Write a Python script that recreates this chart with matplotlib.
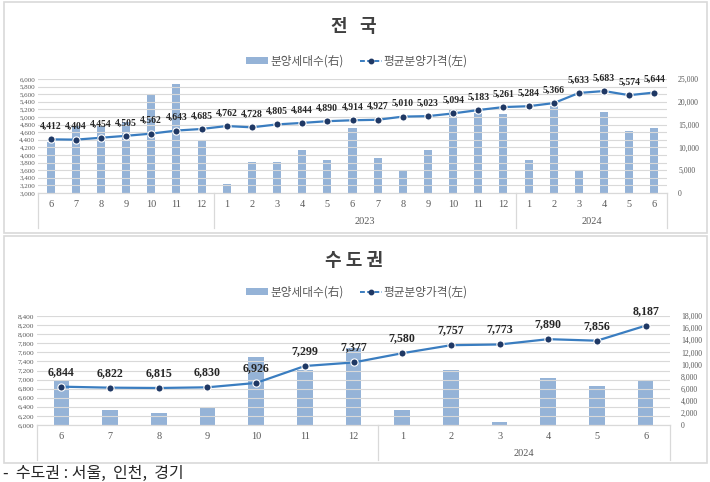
import matplotlib
matplotlib.use("Agg")
import matplotlib.pyplot as plt
from matplotlib.patches import Rectangle, Patch
from matplotlib.lines import Line2D
from matplotlib.transforms import blended_transform_factory
from matplotlib.ticker import FuncFormatter, MultipleLocator

plt.rcParams['font.family'] = ['Liberation Serif', 'Noto Sans CJK KR', 'DejaVu Sans']

# ---------------- data ----------------
nat_months = ['6', '7', '8', '9', '10', '11', '12',
              '1', '2', '3', '4', '5', '6', '7', '8', '9', '10', '11', '12',
              '1', '2', '3', '4', '5', '6']
nat_years = ['', '2023', '2024']
nat_group_sizes = [7, 12, 6]
nat_units = [11100, 14600, 14600, 15500, 21700, 23800, 11400,
             2000, 6700, 6700, 9400, 7300, 14300, 7700, 4750, 9500, 18300, 17500, 17400,
             7300, 19000, 4750, 17800, 13700, 14300]
nat_price = [4412, 4404, 4454, 4505, 4562, 4643, 4685,
             4762, 4728, 4805, 4844, 4890, 4914, 4927, 5010, 5023, 5094, 5183, 5261,
             5284, 5366, 5633, 5683, 5574, 5644]

cap_months = ['6', '7', '8', '9', '10', '11', '12', '1', '2', '3', '4', '5', '6']
cap_years = ['', '2024']
cap_group_sizes = [7, 6]
cap_units = [7500, 2500, 2050, 2900, 11200, 9100, 12700, 2500, 9100, 450, 7700, 6500, 7350]
cap_price = [6844, 6822, 6815, 6830, 6926, 7299, 7377, 7580, 7757, 7773, 7890, 7856, 8187]

legend_bar = '분양세대수(右)'
legend_line = '평균분양가격(左)'
footer = '-  수도권 : 서울,  인천,  경기'

BAR = '#95B3D7'
LINE = '#3A7DC0'
MARK = '#1F3864'
GRID = '#D9D9D9'
TXT = '#595959'
KR = ['Noto Sans CJK KR', 'DejaVu Sans']

W, H = 710, 482
fig = plt.figure(figsize=(W / 100, H / 100), dpi=100)


def fx(x):
    return x / W


def fy(y):
    return 1 - y / H


def box(x0, y0, x1, y1):
    fig.patches.append(Rectangle((fx(x0), fy(y1)), fx(x1) - fx(x0), fy(y0) - fy(y1),
                                 transform=fig.transFigure, fill=False,
                                 edgecolor='#D9D9D9', lw=1.2))


comma = FuncFormatter(lambda v, p: f'{int(round(v)):,}')


def panel(rect, months, years, sizes, units, price, lylim, lstep, rylim, rstep,
          label_off, label_fs, lfs, rfs, year_y, sep_bottom):
    x0, y0, x1, y1 = rect
    ax = fig.add_axes([fx(x0), fy(y1), fx(x1) - fx(x0), fy(y0) - fy(y1)])
    ax2 = ax.twinx()
    n = len(months)
    xs = list(range(n))
    ax.set_zorder(ax2.get_zorder() + 1)
    ax.patch.set_visible(False)
    ax2.bar(xs, units, width=0.32, color=BAR, zorder=2)
    ax.plot(xs, price, color=LINE, lw=1.6, marker='o', ms=5.2,
            markerfacecolor=MARK, markeredgecolor='white', markeredgewidth=0.8, zorder=3)
    for x, v in zip(xs, price):
        ax.annotate(f'{v:,}', (x, v), xytext=(0, label_off), textcoords='offset pixels',
                    ha='center', va='center', fontsize=label_fs, fontweight='bold',
                    color='#262626', zorder=4)
    ax.set_xlim(-0.5, n - 0.5)
    ax.set_ylim(*lylim)
    ax2.set_ylim(*rylim)
    ax.yaxis.set_major_locator(MultipleLocator(lstep))
    ax2.yaxis.set_major_locator(MultipleLocator(rstep))
    ax.yaxis.set_major_formatter(comma)
    ax2.yaxis.set_major_formatter(comma)
    ax.grid(axis='y', color=GRID, lw=0.8)
    ax.set_axisbelow(True)
    ax2.grid(False)
    for a in (ax, ax2):
        for s in ('top', 'left', 'right'):
            a.spines[s].set_visible(False)
        a.spines['bottom'].set_color(GRID)
    ax.set_xticks(xs)
    ax.set_xticklabels(months, fontsize=7.4, color=TXT)
    ax.tick_params(axis='x', length=0, pad=5)
    ax.tick_params(axis='y', length=0, pad=2, labelsize=lfs, labelcolor=TXT)
    ax2.tick_params(axis='y', length=0, pad=8, labelsize=rfs, labelcolor=TXT)
    # group separators and year labels
    tr = blended_transform_factory(ax.transData, fig.transFigure)
    start = 0
    bounds = [-0.5]
    for sz, yr in zip(sizes, years):
        end = start + sz
        bounds.append(end - 0.5)
        if yr:
            ax.text((start + end - 1) / 2, fy(year_y), yr, transform=tr, ha='center',
                    va='center', fontsize=7.4, color=TXT)
        start = end
    for b in bounds:
        ax.add_line(Line2D([b, b], [fy(y1), fy(sep_bottom)], transform=tr, color=GRID,
                           lw=0.9, clip_on=False))
    return ax


# panel frames
box(4, 2, 707, 233)
box(4, 236, 707, 463)

# top panel
fig.text(fx(354), fy(27), '전   국', ha='center', va='center', fontsize=13,
         fontweight='bold', color='#404040', family=KR)
panel((38, 79, 667, 193), nat_months, nat_years, nat_group_sizes, nat_units, nat_price,
      (3000, 6000), 200, (0, 25000), 5000, 13, 7.0, 5.0, 5.6, 222, 228)

# bottom panel
fig.text(fx(354), fy(260), '수 도 권', ha='center', va='center', fontsize=13,
         fontweight='bold', color='#404040', family=KR)
panel((37, 316, 670, 425), cap_months, cap_years, cap_group_sizes, cap_units, cap_price,
      (6000, 8400), 200, (0, 18000), 2000, 15, 8.6, 5.3, 5.6, 454, 460)

handles = [Patch(facecolor=BAR, edgecolor='none'),
           Line2D([], [], color=LINE, lw=1.4, ls=(0, (2.5, 1.2)), marker='o', ms=3.2,
                  markerfacecolor=MARK, markeredgecolor=MARK)]
for yy in (61, 292):
    leg = fig.legend(handles, [legend_bar, legend_line], loc='center',
                     bbox_to_anchor=(fx(357), fy(yy)), ncol=2, frameon=False,
                     handlelength=1.9, handleheight=0.55,
                     columnspacing=1.4, handletextpad=0.15,
                     prop={'family': KR, 'size': 8.4})
    for t in leg.get_texts():
        t.set_color(TXT)

fig.text(fx(3), fy(473), footer, ha='left', va='center', fontsize=11.5,
         color='#262626', family=KR)

fig.savefig('out.png', dpi=100, facecolor='white')
